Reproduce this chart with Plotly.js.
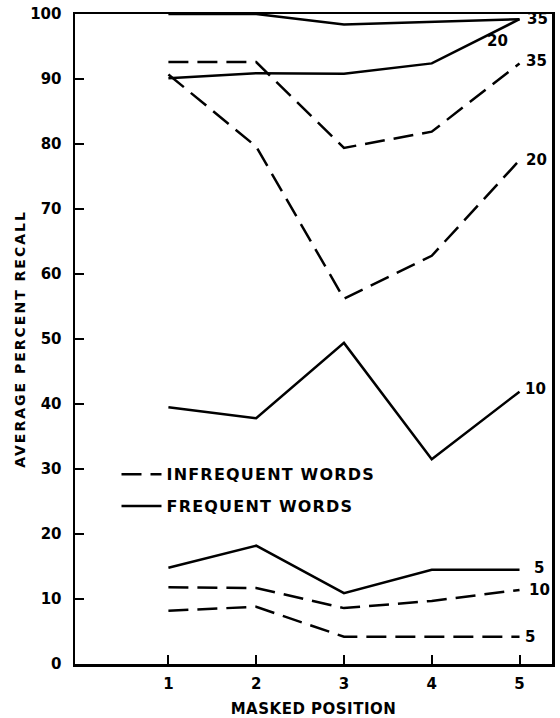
<!DOCTYPE html>
<html>
<head>
<meta charset="utf-8">
<script src="https://cdn.plot.ly/plotly-3.0.1.min.js"></script>
<style>
  html, body { margin: 0; padding: 0; background: #fff; }
  #chart { width: 560px; height: 718px; }
  .ytitle { letter-spacing: 2px; }
  .xtitle { letter-spacing: 0.5px; }
  .legendtext { letter-spacing: 1.2px; }
</style>
</head>
<body>
<div id="chart"></div>
<script>
// Masked position (x) and average percent recall (y)
const positions = [1, 2, 3, 4, 5];

// Frequent words (solid lines), by list length
const frequent35 = [100, 100, 98.4, 98.8, 99.2];
const frequent20 = [90.1, 90.9, 90.8, 92.4, 99.2];
const frequent10 = [39.5, 37.8, 49.4, 31.5, 41.9];
const frequent5  = [14.8, 18.2, 10.9, 14.5, 14.5];

// Infrequent words (dashed lines), by list length
const infrequent35 = [92.6, 92.6, 79.4, 81.9, 92.4];
const infrequent20 = [90.7, 79.6, 56.2, 62.8, 77.5];
const infrequent10 = [11.8, 11.7, 8.6, 9.7, 11.4];
const infrequent5  = [8.2, 8.8, 4.2, 4.2, 4.2];

const yTickVals = [0, 10, 20, 30, 40, 50, 60, 70, 80, 90, 100];
const xTickVals = [1, 2, 3, 4, 5];

const series = [
  {name: 'INFREQUENT WORDS', y: infrequent35, label: '35', dashed: true,  legend: true},
  {name: 'INFREQUENT WORDS', y: infrequent20, label: '20', dashed: true,  legend: false},
  {name: 'INFREQUENT WORDS', y: infrequent10, label: '10', dashed: true,  legend: false},
  {name: 'INFREQUENT WORDS', y: infrequent5,  label: '5',  dashed: true,  legend: false},
  {name: 'FREQUENT WORDS',   y: frequent35,   label: '35', dashed: false, legend: true},
  {name: 'FREQUENT WORDS',   y: frequent20,   label: '20', dashed: false, legend: false},
  {name: 'FREQUENT WORDS',   y: frequent10,   label: '10', dashed: false, legend: false},
  {name: 'FREQUENT WORDS',   y: frequent5,    label: '5',  dashed: false, legend: false}
];

const traces = series.map(s => ({
  type: 'scatter',
  mode: 'lines',
  x: positions,
  y: s.y,
  name: s.name,
  legendgroup: s.name,
  showlegend: s.legend,
  cliponaxis: false,
  line: {color: '#000', width: 2.5, dash: s.dashed ? '20px,9px' : 'solid'},
  hoverinfo: 'x+y'
}));

// end-of-line label offsets (pixels)
const labelShift = {
  'FREQUENT WORDS|35':   {dx: 5,   dy: 0,   anchor: 'left'},
  'FREQUENT WORDS|20':   {dx: -22, dy: -22, anchor: 'center'},
  'INFREQUENT WORDS|35': {dx: 4,   dy: 2,   anchor: 'left'},
  'INFREQUENT WORDS|20': {dx: 4,   dy: 0,   anchor: 'left'},
  'FREQUENT WORDS|10':   {dx: 3,   dy: 3,   anchor: 'left'},
  'FREQUENT WORDS|5':    {dx: 12,  dy: 2,   anchor: 'left'},
  'INFREQUENT WORDS|10': {dx: 7,   dy: 0,   anchor: 'left'},
  'INFREQUENT WORDS|5':  {dx: 3,   dy: 0,   anchor: 'left'}
};

const boldFont = (size) => ({family: 'DejaVu Sans', size: size, color: '#000', weight: 'bold'});

const annotations = series.map(s => {
  const sh = labelShift[s.name + '|' + s.label];
  return {
    x: positions[positions.length - 1],
    y: s.y[s.y.length - 1],
    xref: 'x', yref: 'y',
    text: s.label,
    showarrow: false,
    xanchor: sh.anchor,
    yanchor: 'middle',
    xshift: sh.dx,
    yshift: sh.dy,
    font: boldFont(15)
  };
});

const layout = {
  width: 560,
  height: 718,
  margin: {l: 75, r: 8, t: 14, b: 54},
  paper_bgcolor: '#fff',
  plot_bgcolor: '#fff',
  font: {family: 'DejaVu Sans', color: '#000', size: 16},
  showlegend: true,
  legend: {
    x: 0.087, y: 0.318, xanchor: 'left', yanchor: 'top',
    bgcolor: 'rgba(0,0,0,0)',
    font: boldFont(16),
    traceorder: 'grouped',
    tracegroupgap: 8,
    itemwidth: 40
  },
  xaxis: {
    range: [-0.064, 5.37],
    tickmode: 'array',
    tickvals: xTickVals,
    ticktext: xTickVals.map(String),
    ticks: 'inside',
    ticklen: 9,
    tickwidth: 2,
    tickcolor: '#000',
    showline: true,
    linecolor: '#000',
    linewidth: 2.5,
    mirror: true,
    showgrid: false,
    zeroline: false,
    tickfont: boldFont(15),
    ticklabelstandoff: 4,
    title: {text: 'MASKED POSITION', font: boldFont(15), standoff: 18}
  },
  yaxis: {
    range: [0, 100],
    tickmode: 'array',
    tickvals: yTickVals,
    ticktext: yTickVals.map(String),
    ticks: 'inside',
    ticklen: 9,
    tickwidth: 2,
    tickcolor: '#000',
    showline: true,
    linecolor: '#000',
    linewidth: 2.5,
    mirror: true,
    showgrid: false,
    zeroline: false,
    tickfont: boldFont(15),
    ticklabelstandoff: 8,
    title: {text: 'AVERAGE PERCENT RECALL', font: boldFont(14), standoff: 2}
  },
  annotations: annotations
};

Plotly.newPlot('chart', traces, layout, {displayModeBar: false, staticPlot: true});
</script>
</body>
</html>
